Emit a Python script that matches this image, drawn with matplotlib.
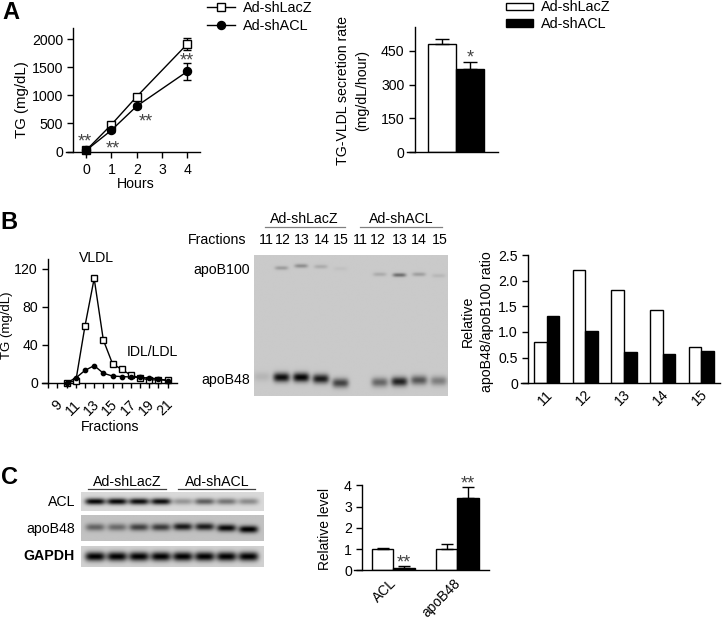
import numpy as np
import matplotlib
matplotlib.use("Agg")
import matplotlib.pyplot as plt
from matplotlib.lines import Line2D
from matplotlib.patches import Rectangle
from matplotlib.transforms import ScaledTranslation

plt.rcParams['font.family'] = ['Liberation Sans', 'DejaVu Sans']
plt.rcParams['font.size'] = 10.2
plt.rcParams['axes.linewidth'] = 1.0
plt.rcParams['xtick.major.width'] = 1.0
plt.rcParams['ytick.major.width'] = 1.0
plt.rcParams['xtick.major.size'] = 4
plt.rcParams['ytick.major.size'] = 4.5
plt.rcParams['xtick.major.pad'] = 4
plt.rcParams['ytick.major.pad'] = 3

# ---------- data ----------
hours = [0, 1, 2, 4]
tg_lacz = [20, 480, 980, 1920]
tg_lacz_err = [10, 30, 40, 110]
tg_acl = [20, 380, 810, 1430]
tg_acl_err = [10, 30, 40, 150]

secretion = [482, 370]
secretion_err = [22, 33]

fractions = list(range(10, 22))
fr_lacz = [0, 2, 60, 110, 45, 20, 14, 8, 5, 3, 3, 3]
fr_acl = [0, 5, 13, 18, 10, 7, 6.5, 6, 5.5, 5, 4, 2]

ratio_labels = ['11', '12', '13', '14', '15']
ratio_lacz = [0.81, 2.2, 1.82, 1.43, 0.71]
ratio_acl = [1.31, 1.02, 0.61, 0.58, 0.62]

level_labels = ['ACL', 'apoB48']
level_lacz = [1.0, 1.0]
level_lacz_err = [0.04, 0.24]
level_acl = [0.13, 3.42]
level_acl_err = [0.06, 0.48]

blot_lane_labels = ['11', '12', '13', '14', '15', '11', '12', '13', '14', '15']
apob48_bands = [0.1, 0.95, 1.0, 0.88, 0.68, 0.0, 0.5, 0.85, 0.58, 0.38]
apob100_bands = [0.0, 0.3, 0.4, 0.2, 0.06, 0.0, 0.2, 0.6, 0.28, 0.12]
acl_bands = [0.95, 0.95, 0.92, 0.92, 0.3, 0.55, 0.45, 0.35]
apob48c_bands = [0.45, 0.42, 0.62, 0.65, 0.82, 0.8, 0.9, 0.95]
gapdh_bands = [0.95, 0.95, 0.95, 0.95, 0.95, 0.95, 0.95, 0.95]

W, H = 722, 620
fig = plt.figure(figsize=(W / 100, H / 100), dpi=100, facecolor='white')


def axes_px(l, t, r, b):
    ax = fig.add_axes([l / W, 1 - b / H, (r - l) / W, (b - t) / H])
    ax.patch.set_alpha(0)
    for s in ('top', 'right'):
        ax.spines[s].set_visible(False)
    return ax


def label(x, y, s, **kw):
    kw.setdefault('ha', 'center')
    kw.setdefault('va', 'center')
    return fig.text(x / W, 1 - y / H, s, **kw)


def stars(x, y, s, size=13):
    # y is the visual middle of the asterisks
    fig.text(x / W, 1 - (y + 0.45 * size * 100 / 72) / H, s, ha='center',
             va='baseline', fontsize=size, color='#444444')


def hline(x0, x1, y, color='#808080', lw=0.9):
    fig.add_artist(Line2D([x0 / W, x1 / W], [1 - y / H, 1 - y / H], color=color, lw=lw))


def shift_xticklabels(ax, dx_px):
    off = ScaledTranslation(dx_px / 100, 0, fig.dpi_scale_trans)
    for t in ax.get_xticklabels():
        t.set_transform(t.get_transform() + off)


def blot(bands, x_range, yc, wx=0.36, wy=0.07, bg=0.78, dark=0.74):
    xs = np.linspace(x_range[0], x_range[1], 360)
    ys = np.linspace(0, 1, 180)
    X, Y = np.meshgrid(xs, ys)
    img = np.zeros_like(X)
    for i, v in enumerate(bands):
        c = yc[i] if np.ndim(yc) else yc
        img += v * np.exp(-((X - i) / wx) ** 4 - ((Y - c) / wy) ** 2)
    return np.clip(bg - dark * np.clip(img, 0, 1.15), 0, 1)


def show(ax, img, x_range):
    ax.imshow(img, extent=(x_range[0], x_range[1], 1, 0), cmap='gray', vmin=0, vmax=1,
              aspect='auto', interpolation='bilinear')
    ax.axis('off')


# ---------- panel letters ----------
for x, y, s in [(10.5, 12.5, 'A'), (8.5, 222.5, 'B'), (10, 478, 'C')]:
    label(x, y, s, fontsize=17, fontweight='bold')

# ---------- A left ----------
ax = axes_px(66, 28, 200, 151.5)
ax.set_xlim(-0.794, 4.5)
ax.set_ylim(0, 2205)
ax.spines['left'].set_position(('data', -0.5))
ax.errorbar(hours, tg_lacz, yerr=tg_lacz_err, color='black', lw=1, marker='s', ms=5.8,
            mfc='white', mec='black', mew=1, capsize=2.6, clip_on=False, zorder=3)
ax.errorbar(hours, tg_acl, yerr=tg_acl_err, color='black', lw=1, marker='o', ms=5.8,
            mfc='black', mec='black', capsize=2.6, clip_on=False, zorder=4)
ax.set_xticks(range(5))
ax.set_yticks([0, 500, 1000, 1500, 2000])
label(135.7, 184.3, 'Hours')
label(21.7, 100, 'TG (mg/dL)', rotation=90, fontsize=10.8)
stars(84.7, 138, '**')
stars(112.7, 145.7, '**')
stars(146, 118.3, '**')
stars(187, 57.3, '**')

for y, s, mk, fc in [(6.5, 'Ad-shLacZ', 's', 'white'), (25, 'Ad-shACL', 'o', 'black')]:
    fig.add_artist(Line2D([207 / W, 235 / W], [1 - y / H] * 2, color='black', lw=1))
    fig.add_artist(Line2D([221 / W], [1 - y / H], marker=mk, ms=5.8, mfc=fc, mec='black',
                          mew=1, color='black'))
    label(243, y + 1, s, ha='left', fontsize=10.4)

# ---------- A right ----------
ax = axes_px(406.7, 26.7, 498.3, 152)
ax.set_xlim(0, 2.25)
ax.set_ylim(0, (152 - 26.7) / 33.67 * 150)
ax.spines['left'].set_position(('axes', (414.7 - 406.7) / (498.3 - 406.7)))
bw = 0.68
ax.bar([0.87, 1.55], secretion, width=bw, color=['white', 'black'], edgecolor='black', lw=1,
       yerr=[[0, 0], secretion_err], ecolor='black',
       error_kw=dict(capsize=5, capthick=1, elinewidth=1))
ax.set_xticks([])
ax.set_yticks([0, 150, 300, 450])
label(352.5, 90.5, 'TG-VLDL secretion rate\n(mg/dL/hour)', rotation=90, multialignment='center',
      linespacing=1.4)
stars(470, 54.3, '*')
for y, s, fc in [(6.5, 'Ad-shLacZ', 'white'), (23, 'Ad-shACL', 'black')]:
    fig.add_artist(Rectangle((506 / W, 1 - (y + 3.7) / H), 27 / W, 7.5 / H, facecolor=fc,
                             edgecolor='black', lw=1, transform=fig.transFigure))
    label(541, y + 0.5, s, ha='left', fontsize=10.4)

# ---------- B left ----------
ax = axes_px(41.7, 259, 176.7, 382.7)
ax.set_xlim(8 - 6.6 / 9.13, 22)
ax.set_ylim(0, (382.7 - 259) / (113.7 / 120))
ax.spines['left'].set_position(('data', 8))
ax.plot(fractions, fr_lacz, color='black', lw=1, marker='s', ms=3.9, mfc='white', mec='black',
        mew=1, clip_on=False, zorder=3)
ax.plot(fractions, fr_acl, color='black', lw=1, marker='o', ms=3.1, mfc='black', mec='black',
        clip_on=False, zorder=4)
ax.set_xticks(range(8, 22))
ax.set_xticklabels(['' if i % 2 == 0 else str(i) for i in range(8, 22)], rotation=45, ha='right',
                   rotation_mode='anchor')
ax.tick_params(axis='x', length=3.5, pad=7)
shift_xticklabels(ax, -2)
ax.set_yticks([0, 40, 80, 120])
label(96, 257.7, 'VLDL')
label(152.7, 352, 'IDL/LDL')
label(110.3, 426.7, 'Fractions')
label(7.5, 325.5, 'TG (mg/dL)', rotation=90, fontsize=9.5)

# ---------- B blot ----------
ax = axes_px(254, 255, 447.7, 395.7)
x_range = (-0.39, 9.46)
y48 = [0.865, 0.87, 0.87, 0.88, 0.91, 0.9, 0.905, 0.9, 0.89, 0.895]
y100 = [0.08, 0.09, 0.075, 0.08, 0.095, 0.14, 0.135, 0.14, 0.135, 0.145]
img = blot(apob48_bands, x_range, y48, wx=0.42, wy=0.033, bg=0.79, dark=0.78)
img = img - 0.6 * (0.79 - blot(apob100_bands, x_range, y100, wx=0.34, wy=0.014, bg=0.79, dark=1.0))
show(ax, np.clip(img, 0, 1), x_range)

label(304.3, 219, 'Ad-shLacZ')
hline(265, 345, 227.3)
label(401, 219, 'Ad-shACL')
hline(360, 442, 227.3)
label(188, 240.3, 'Fractions', ha='left')
for x, s in zip([266, 283.3, 301.7, 321.7, 341, 360, 378.3, 400, 419, 440], blot_lane_labels):
    label(x, 240.3, s)
label(250, 270, 'apoB100', ha='right')
label(250, 380, 'apoB48', ha='right')

# ---------- B right ----------
ax = axes_px(521, 255, 720, 383.3)
ax.set_xlim(1 - (546.7 - 521) / 38.6, 5 + (720 - 701.3) / 38.6)
ax.set_ylim(0, 2.5)
ax.spines['left'].set_position(('data', 1 - (546.7 - 528.3) / 38.6))
pos = np.arange(1, 6)
ax.bar(pos - 0.165, ratio_lacz, width=0.33, color='white', edgecolor='black', lw=1)
ax.bar(pos + 0.165, ratio_acl, width=0.33, color='black', edgecolor='black', lw=1)
ax.set_xticks(pos)
ax.set_xticklabels(ratio_labels, rotation=45, ha='right', rotation_mode='anchor')
ax.tick_params(axis='x', length=0, pad=3)
shift_xticklabels(ax, -1)
ax.set_yticks([0, 0.5, 1, 1.5, 2, 2.5])
ax.set_yticklabels(['0', '0.5', '1.0', '1.5', '2.0', '2.5'])
label(468, 321.7, 'Relative', rotation=90)
label(487, 322, 'apoB48/apoB100 ratio', rotation=90)

# ---------- C blots ----------
c_range = (-0.64, 7.7)
ax = axes_px(81, 492.3, 264, 510.7)
show(ax, blot(acl_bands, c_range, 0.5, wx=0.46, wy=0.17, bg=0.85, dark=0.87), c_range)
ax = axes_px(81, 515, 264, 541)
img = blot(apob48c_bands, c_range, [0.47, 0.47, 0.47, 0.47, 0.45, 0.45, 0.5, 0.55],
           wx=0.44, wy=0.14, bg=0.76, dark=0.82)
show(ax, img, c_range)
ax = axes_px(81, 545.7, 264, 566.7)
show(ax, blot(gapdh_bands, c_range, 0.5, wx=0.46, wy=0.22, bg=0.82, dark=0.86), c_range)

label(127.7, 481.7, 'Ad-shLacZ')
hline(88, 166, 489.3, color='#404040')
label(217.7, 481.7, 'Ad-shACL')
hline(177.7, 255, 489.3, color='#404040')
label(75, 501.5, 'ACL', ha='right')
label(75, 529, 'apoB48', ha='right')
label(75, 556.5, 'GAPDH', ha='right', fontweight='bold')

# ---------- C right ----------
ax = axes_px(354.3, 485.3, 489.3, 570.3)
ax.set_xlim(354.3 / 64 - 393.3 / 64 + 1, 489.3 / 64 - 393.3 / 64 + 1)
ax.set_ylim(0, 4)
ax.spines['left'].set_position(('data', 362.3 / 64 - 393.3 / 64 + 1))
pos = np.arange(1, 3)
ax.bar(pos - 0.168, level_lacz, width=0.336, color='white', edgecolor='black', lw=1,
       yerr=[[0, 0], level_lacz_err], error_kw=dict(capsize=4, capthick=1, elinewidth=1))
ax.bar(pos + 0.168, level_acl, width=0.336, color='black', edgecolor='black', lw=1,
       yerr=[[0, 0], level_acl_err], error_kw=dict(capsize=4.5, capthick=1, elinewidth=1))
ax.set_xticks(pos)
ax.set_xticklabels(level_labels, rotation=45, ha='right', rotation_mode='anchor')
for t in ax.get_xticklabels():
    t.set_fontsize(10)
ax.tick_params(axis='x', length=0, pad=4)
shift_xticklabels(ax, -4)
ax.set_yticks([0, 1, 2, 3, 4])
label(325, 528.8, 'Relative level', rotation=90, fontsize=9.9)
stars(404.3, 559.3, '**')
stars(467.7, 480.7, '**')

fig.savefig('out.png', dpi=100)
